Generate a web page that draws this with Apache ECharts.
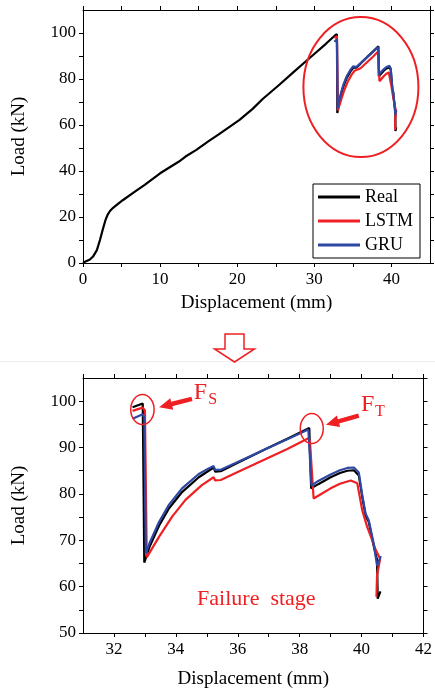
<!DOCTYPE html>
<html><head><meta charset="utf-8">
<script src="https://cdn.jsdelivr.net/npm/echarts@6/dist/echarts.min.js"></script>
<style>html,body{margin:0;padding:0;background:#fff;}#c{width:435px;height:692px;}</style>
</head><body><div id="c"></div>
<script>
// ---------- DATA ----------
const seriesNames = ['Real', 'LSTM', 'GRU'];

const realX = [0, 0.4, 0.9, 1.3, 1.8, 2.2, 2.6, 2.9, 3.2, 3.5, 3.9, 4.5, 5.2, 6.5, 8.0, 10.0,
  11.2, 11.3, 11.4, 12.4, 13.3, 13.4, 13.5, 14.7, 14.8, 14.9, 16.2, 16.3, 16.4, 17.6, 19.0,
  20.3, 20.4, 20.5, 22.0, 23.3, 23.4, 23.5, 25.5, 27.3, 27.4, 27.5, 28.8, 30.1, 31.5,
  32.6, 32.93, 32.98, 33.15, 33.46, 33.78, 34.2, 34.74, 35.06, 35.22, 35.27, 35.45, 36.0,
  36.87, 37.6, 38.31, 38.37, 38.6, 39.0, 39.3, 39.54, 39.75, 39.91, 40.02, 40.13, 40.23,
  40.39, 40.5, 40.52, 40.61];
const realY = [0, 0.8, 1.5, 2.8, 5.6, 10, 15, 18.5, 21, 22.6, 24, 25.6, 27.4, 30.5, 34, 39,
  41.5, 40.7, 41.9, 44, 46.3, 45.6, 46.7, 49.2, 48.4, 49.5, 52.8, 52.2, 53.2, 55.9, 59.2,
  62.2, 61.5, 62.6, 67.0, 71.3, 70.7, 71.8, 77.6, 83.0, 82.4, 83.5, 87.4, 91.2, 95.3,
  98.7, 99.5, 65.2, 68.6, 73.2, 76.9, 80.4, 83.6, 85.0, 85.7, 84.8, 84.9, 86.7,
  89.6, 91.9, 94.2, 81.2, 82.1, 83.6, 84.5, 85.0, 85.1, 84.0, 79.4, 75.3, 74.0,
  68.8, 65.8, 57.4, 59.0];

const lstmX = [32.6, 32.93, 33.0, 33.06, 33.46, 33.88, 34.31, 34.84, 35.22, 35.27, 35.45, 36.0,
  36.87, 37.6, 38.28, 38.33, 38.45, 38.6, 39.0, 39.3, 39.65, 39.86, 40.02, 40.18, 40.34,
  40.45, 40.6, 40.5, 40.48];
const lstmY = [97.9, 98.6, 98.0, 66.3, 70.8, 75.1, 78.7, 81.9, 83.6, 82.9, 83.0, 84.7,
  87.4, 89.7, 92.0, 91.5, 79.0, 79.6, 81.2, 82.2, 82.9, 82.3, 76.5, 72.9, 70.1,
  68.0, 66.0, 62.5, 57.8];

const gruX = [32.6, 32.93, 32.98, 33.03, 33.15, 33.46, 33.78, 34.2, 34.74, 35.06, 35.22, 35.27,
  35.45, 36.0, 36.87, 37.6, 38.28, 38.33, 38.38, 38.6, 39.0, 39.3, 39.54, 39.75, 39.91,
  40.02, 40.13, 40.23, 40.39, 40.5, 40.62];
const gruY = [96.2, 97.2, 96.5, 67.2, 69.4, 74.0, 77.7, 81.2, 84.3, 85.5, 86.0, 85.2,
  85.2, 86.9, 89.6, 91.8, 93.9, 93.5, 81.8, 82.8, 84.2, 85.1, 85.6, 85.7, 84.6,
  79.8, 75.7, 74.3, 69.3, 64.5, 66.6];

const topXTicks = [0, 10, 20, 30, 40];
const topYTicks = [0, 20, 40, 60, 80, 100];
const botXTicks = [32, 34, 36, 38, 40, 42];
const botYTicks = [50, 60, 70, 80, 90, 100];

// ---------- STYLE ----------
const FONT = '"Liberation Serif", "Times New Roman", serif';
const COLORS = { Real: '#000000', LSTM: '#ee2024', GRU: '#2d47a3' };
const RED = '#ee2024';

const zip = (xs, ys) => xs.map((x, i) => [x, ys[i]]);
const realPairs = zip(realX, realY);
const realFailure = realPairs.filter(p => p[0] >= 32.6);

function xAx(gridIndex, pos, min, max, interval, ticks, showName) {
  return {
    type: 'value', gridIndex, position: pos, min, max, interval,
    name: showName ? 'Displacement (mm)' : '',
    nameLocation: 'middle', nameGap: showName || 30,
    nameTextStyle: { fontFamily: FONT, fontSize: 19, color: '#000' },
    axisLine: { show: true, onZero: false, lineStyle: { color: '#000', width: 1 } },
    axisTick: { show: true, inside: false, length: 4, lineStyle: { color: '#000', width: 1 } },
    axisLabel: {
      show: pos === 'bottom', margin: 8, fontFamily: FONT, fontSize: 17, color: '#000',
      showMaxLabel: ticks.includes(max), showMinLabel: ticks.includes(min),
      formatter: v => ticks.includes(Math.round(v * 1000) / 1000) ? String(v) : ''
    },
    splitLine: { show: false }
  };
}
function yAx(gridIndex, pos, min, max, interval, ticks) {
  return {
    type: 'value', gridIndex, position: pos, min, max, interval,
    name: pos === 'left' ? 'Load (kN)' : '',
    nameLocation: 'middle', nameGap: 54, nameRotate: 90,
    nameTextStyle: { fontFamily: FONT, fontSize: 19, color: '#000' },
    axisLine: { show: true, onZero: false, lineStyle: { color: '#000', width: 1 } },
    axisTick: { show: true, inside: false, length: 4, lineStyle: { color: '#000', width: 1 } },
    axisLabel: {
      show: pos === 'left', margin: 7, fontFamily: FONT, fontSize: 17, color: '#000',
      showMaxLabel: ticks.includes(max),
      formatter: v => ticks.includes(Math.round(v * 1000) / 1000) ? String(v) : ''
    },
    splitLine: { show: false }
  };
}
function line(name, data, xi, yi, z) {
  return {
    type: 'line', name, data, xAxisIndex: xi, yAxisIndex: yi,
    showSymbol: false, symbol: 'none', clip: true, z,
    color: COLORS[name],
    lineStyle: { color: COLORS[name], width: 2.2 },
    emphasis: { disabled: true }
  };
}

const chart = echarts.init(document.getElementById('c'), null, { renderer: 'canvas' });
chart.setOption({
  animation: false,
  backgroundColor: '#fff',
  grid: [
    { left: 83, top: 10, width: 347, height: 253 },
    { left: 83, top: 378, width: 344, height: 255 }
  ],
  xAxis: [
    xAx(0, 'bottom', 0, 45, 5, topXTicks, 31),
    xAx(0, 'top', 0, 45, 5, topXTicks, 0),
    xAx(1, 'bottom', 31, 42, 1, botXTicks, 37),
    xAx(1, 'top', 31, 42, 1, botXTicks, 0)
  ],
  yAxis: [
    yAx(0, 'left', 0, 110, 10, topYTicks),
    yAx(0, 'right', 0, 110, 10, topYTicks),
    yAx(1, 'left', 50, 105, 5, botYTicks),
    yAx(1, 'right', 50, 105, 5, botYTicks)
  ],
  legend: {
    data: seriesNames, orient: 'vertical', left: 313, top: 184,
    itemWidth: 42, itemHeight: 3, icon: 'rect', itemGap: 6,
    padding: [4, 7, 4, 5], borderColor: '#000', borderWidth: 1, borderRadius: 0,
    backgroundColor: '#fff', selectedMode: false,
    textStyle: { fontFamily: FONT, fontSize: 18, color: '#000', lineHeight: 18 }
  },
  series: [
    line('Real', realPairs, 0, 0, 2),
    line('LSTM', zip(lstmX, lstmY), 0, 0, 3),
    line('GRU', zip(gruX, gruY), 0, 0, 4),
    line('Real', realFailure, 2, 2, 2),
    line('LSTM', zip(lstmX, lstmY), 2, 2, 3),
    line('GRU', zip(gruX, gruY), 2, 2, 4)
  ]
});

// ---------- ANNOTATIONS ----------
const P0 = (x, y) => chart.convertToPixel({ gridIndex: 0 }, [x, y]);
const P1 = (x, y) => chart.convertToPixel({ gridIndex: 1 }, [x, y]);

function arrowPoly(tail, tip, sw, hl, hw) {
  const dx = tip[0] - tail[0], dy = tip[1] - tail[1];
  const L = Math.hypot(dx, dy); const ux = dx / L, uy = dy / L; const px = -uy, py = ux;
  const b = [tip[0] - ux * hl, tip[1] - uy * hl];
  return [
    [tail[0] + px * sw / 2, tail[1] + py * sw / 2], [b[0] + px * sw / 2, b[1] + py * sw / 2],
    [b[0] + px * hw / 2, b[1] + py * hw / 2], tip,
    [b[0] - px * hw / 2, b[1] - py * hw / 2], [b[0] - px * sw / 2, b[1] - py * sw / 2],
    [tail[0] - px * sw / 2, tail[1] - py * sw / 2]
  ];
}

const cTop = P0(36.04, 76.5);
const cFs = P1(32.92, 98.2);
const cFt = P1(38.39, 94.1);
const fsTip = P1(33.46, 98.7), fsTail = P1(34.52, 100.5);
const ftTip = P1(38.85, 94.9), ftTail = P1(39.91, 96.9);
const fsText = P1(34.58, 101.9);
const ftText = P1(39.98, 99.2);
const failText = P1(36.6, 57.3);

chart.setOption({
  graphic: [
    { type: 'line', shape: { x1: 0, y1: 361.5, x2: 435, y2: 361.5 }, style: { stroke: '#ededed', lineWidth: 1 }, z: 1 },
    { type: 'ellipse', shape: { cx: cTop[0], cy: cTop[1], rx: 57.5, ry: 70 }, style: { fill: 'none', stroke: RED, lineWidth: 2 }, z: 100 },
    { type: 'ellipse', shape: { cx: cFs[0], cy: cFs[1], rx: 11.7, ry: 15 }, style: { fill: 'none', stroke: RED, lineWidth: 1.5 }, z: 100 },
    { type: 'ellipse', shape: { cx: cFt[0], cy: cFt[1], rx: 11.5, ry: 15 }, style: { fill: 'none', stroke: RED, lineWidth: 1.5 }, z: 100 },
    { type: 'polygon', shape: { points: arrowPoly(fsTail, fsTip, 4.5, 13, 12) }, style: { fill: RED }, z: 100 },
    { type: 'polygon', shape: { points: arrowPoly(ftTail, ftTip, 4.5, 13, 12) }, style: { fill: RED }, z: 100 },
    { type: 'polygon', shape: { points: [[225, 334], [244, 334], [244, 349], [254.5, 349], [234.5, 362], [214.5, 349], [225, 349]] },
      style: { fill: '#fff', stroke: RED, lineWidth: 1.5 }, z: 100 },
    { type: 'text', x: fsText[0], y: fsText[1], style: { text: 'F', font: '24px ' + FONT, fill: RED, align: 'left', verticalAlign: 'middle' }, z: 100 },
    { type: 'text', x: fsText[0] + 14.5, y: fsText[1] + 7, style: { text: 'S', font: '16px ' + FONT, fill: RED, align: 'left', verticalAlign: 'middle' }, z: 100 },
    { type: 'text', x: ftText[0], y: ftText[1], style: { text: 'F', font: '24px ' + FONT, fill: RED, align: 'left', verticalAlign: 'middle' }, z: 100 },
    { type: 'text', x: ftText[0] + 14, y: ftText[1] + 7, style: { text: 'T', font: '16px ' + FONT, fill: RED, align: 'left', verticalAlign: 'middle' }, z: 100 },
    { type: 'text', x: failText[0], y: failText[1], style: { text: 'Failure  stage', font: '22px ' + FONT, fill: RED, align: 'center', verticalAlign: 'middle' }, z: 100 }
  ]
});
</script>
</body></html>
